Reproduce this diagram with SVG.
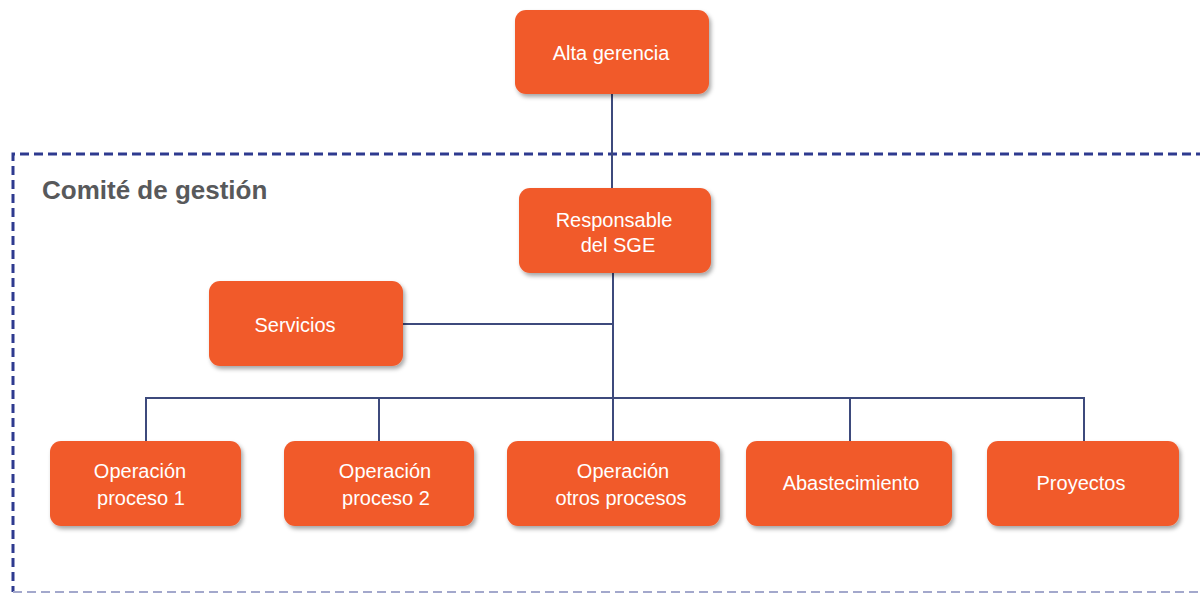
<svg xmlns="http://www.w3.org/2000/svg" width="1200" height="594" viewBox="0 0 1200 594">
<style>
.box{fill:#F15A2B;filter:url(#sh)}
.t{font-family:"Liberation Sans",Arial,sans-serif;font-size:20px;fill:#ffffff;text-anchor:middle}
.c{fill:none;stroke:#3d4a7c;stroke-width:2}
</style>
<defs>
<filter id="sh" x="-10%" y="-10%" width="125%" height="135%">
<feDropShadow dx="2" dy="3" stdDeviation="2" flood-color="#000" flood-opacity="0.35"/>
</filter>
</defs>
<rect width="1200" height="594" fill="#ffffff"/>
<g id="committee">
<path d="M1205,154 H13 V592" fill="none" stroke="#2e3a8f" stroke-width="3" stroke-dasharray="9,5"/>
<path d="M13,592 H1205" fill="none" stroke="#a3a8cc" stroke-width="2" stroke-dasharray="9,5"/>
<text x="42" y="199" font-family="'Liberation Sans',Arial,sans-serif" font-size="26" font-weight="bold" fill="#58595b">Comité de gestión</text>
</g>
<g id="connectors">
<path class="c" d="M612,94 V188"/>
<path class="c" d="M613,273 V441"/>
<path class="c" d="M403,324 H613"/>
<path class="c" d="M146,441 V398 H1084 V441"/>
<path class="c" d="M379,398 V441"/>
<path class="c" d="M850,398 V441"/>
</g>
<g id="alta-gerencia">
<rect class="box" x="515" y="10" width="194" height="84" rx="11"/>
<text class="t" x="611" y="60">Alta gerencia</text>
</g>
<g id="responsable">
<rect class="box" x="519" y="188" width="192" height="85" rx="11"/>
<text class="t" x="614" y="227">Responsable</text>
<text class="t" x="618" y="252">del SGE</text>
</g>
<g id="servicios">
<rect class="box" x="209" y="281" width="194" height="85" rx="11"/>
<text class="t" x="295" y="332">Servicios</text>
</g>
<g id="op1">
<rect class="box" x="50" y="441" width="191" height="85" rx="11"/>
<text class="t" x="140" y="478">Operación</text>
<text class="t" x="141" y="505">proceso 1</text>
</g>
<g id="op2">
<rect class="box" x="284" y="441" width="190" height="85" rx="11"/>
<text class="t" x="385" y="478">Operación</text>
<text class="t" x="386" y="505">proceso 2</text>
</g>
<g id="op-otros">
<rect class="box" x="507" y="441" width="213" height="85" rx="11"/>
<text class="t" x="623" y="478">Operación</text>
<text class="t" x="621" y="505">otros procesos</text>
</g>
<g id="abastecimiento">
<rect class="box" x="746" y="441" width="206" height="85" rx="11"/>
<text class="t" x="851" y="490">Abastecimiento</text>
</g>
<g id="proyectos">
<rect class="box" x="987" y="441" width="192" height="85" rx="11"/>
<text class="t" x="1081" y="490">Proyectos</text>
</g>
</svg>
